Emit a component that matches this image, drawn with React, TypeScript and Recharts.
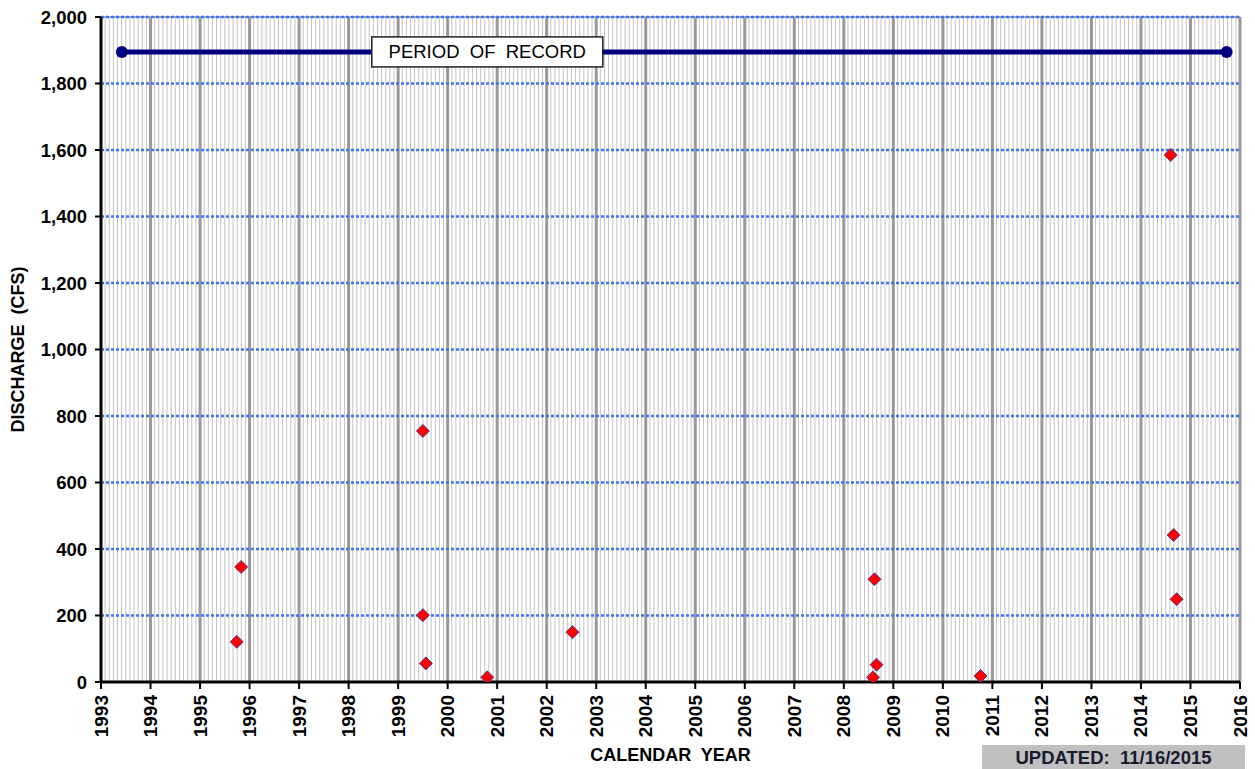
import React from 'react';
import {
  ComposedChart,
  XAxis,
  YAxis,
  Scatter,
  ReferenceLine,
  ReferenceDot,
} from 'recharts';

const FONT = '"Liberation Sans", Arial, Helvetica, sans-serif';

const yearTicks = [1993, 1994, 1995, 1996, 1997, 1998, 1999, 2000, 2001, 2002, 2003, 2004, 2005, 2006, 2007, 2008, 2009, 2010, 2011, 2012, 2013, 2014, 2015, 2016];
const dischargeTicks = [0, 200, 400, 600, 800, 1000, 1200, 1400, 1600, 1800, 2000];
const monthsPerYear = 12;

const obsYears = [1995.74, 1995.83, 1999.5, 1999.5, 1999.56, 2000.8, 2002.52, 2008.59, 2008.62, 2008.66, 2010.76, 2014.6, 2014.66, 2014.72];
const obsDischarge = [121, 346, 755, 201, 56, 14, 150, 14, 309, 52, 18, 1585, 442, 249];

const periodYears = [1993.42, 2015.73];
const periodDischarge = [1895, 1895];
const periodLabel = 'PERIOD\u00a0 OF\u00a0 RECORD';
const periodLabelYear = 2000.8;

const updatedText = 'UPDATED:\u00a0 11/16/2015';
const xTitle = 'CALENDAR\u00a0 YEAR';
const yTitle = 'DISCHARGE\u00a0 (CFS)';

const observations = obsYears.map((x, i) => ({ x, y: obsDischarge[i] }));
const period = periodYears.map((x, i) => ({ x, y: periodDischarge[i] }));

const minorLines: number[] = [];
for (let i = 0; i < yearTicks.length - 1; i++) {
  for (let m = 1; m < monthsPerYear; m++) {
    minorLines.push(yearTicks[i] + m / monthsPerYear);
  }
}

const Diamond = (props: any) => {
  const { cx, cy } = props;
  if (cx == null || cy == null) return null;
  const r = 6.5;
  return (
    <polygon
      points={`${cx},${cy - r} ${cx + r},${cy} ${cx},${cy + r} ${cx - r},${cy}`}
      fill="#ff0000"
      stroke="#4a3f8f"
      strokeWidth={1}
    />
  );
};

const PeriodDot = (props: any) => {
  const { cx, cy } = props;
  if (cx == null || cy == null) return null;
  return <circle cx={cx} cy={cy} r={6} fill="#000080" />;
};

const LabelBox = (props: any) => {
  const { cx, cy } = props;
  if (cx == null || cy == null) return null;
  const w = 231;
  const h = 30;
  return (
    <g>
      <rect x={cx - w / 2} y={cy - h / 2} width={w} height={h} fill="#ffffff" stroke="#222222" strokeWidth={1.5} />
      <text x={cx} y={cy + 6.5} textAnchor="middle" fontFamily={FONT} fontSize={18.5} fill="#000000">
        {periodLabel}
      </text>
    </g>
  );
};

const XTick = (props: any) => {
  const { x, y, payload } = props;
  return (
    <g transform={`translate(${x + 6.5},${y + 4}) rotate(-90)`}>
      <text x={0} y={0} textAnchor="end" fontFamily={FONT} fontWeight="bold" fontSize={19} fill="#000000">
        {payload.value}
      </text>
    </g>
  );
};

const YTick = (props: any) => {
  const { x, y, payload } = props;
  return (
    <text x={x - 6} y={y + 6.5} textAnchor="end" fontFamily={FONT} fontWeight="bold" fontSize={18.5} fill="#000000">
      {Number(payload.value).toLocaleString('en-US')}
    </text>
  );
};

export default function App() {
  return (
    <div style={{ position: 'absolute', left: 0, top: 0, width: 1255, height: 769, background: '#ffffff' }}>
      <ComposedChart
        width={1255}
        height={769}
        margin={{ top: 17, right: 15, left: 0, bottom: 27 }}
      >
        <XAxis
          type="number"
          dataKey="x"
          domain={[1993, 2016]}
          ticks={yearTicks}
          interval={0}
          allowDataOverflow
          height={60}
          axisLine={{ stroke: '#000000', strokeWidth: 3 }}
          tickLine={{ stroke: '#000000', strokeWidth: 2 }}
          tickSize={7}
          tick={<XTick />}
          label={{
            value: xTitle,
            position: 'insideBottom',
            offset: -19,
            style: { fontFamily: FONT, fontWeight: 'bold', fontSize: 18, fill: '#000000' },
          }}
        />
        <YAxis
          type="number"
          dataKey="y"
          domain={[0, 2000]}
          ticks={dischargeTicks}
          interval={0}
          allowDataOverflow
          width={101}
          axisLine={{ stroke: '#000000', strokeWidth: 3 }}
          tickLine={{ stroke: '#000000', strokeWidth: 2 }}
          tickSize={6}
          tick={<YTick />}
          label={{
            value: yTitle,
            angle: -90,
            position: 'insideLeft',
            offset: 18,
            style: { fontFamily: FONT, fontWeight: 'bold', fontSize: 18, fill: '#000000', textAnchor: 'middle' },
          }}
        />
        {minorLines.map((v) => (
          <ReferenceLine key={`m${v}`} x={v} stroke="#c4c4c4" strokeWidth={1} />
        ))}
        {yearTicks.slice(1).map((v) => (
          <ReferenceLine key={`y${v}`} x={v} stroke="#999999" strokeWidth={3} />
        ))}
        <ReferenceLine y={2000} stroke="#aaaaaa" strokeWidth={2} />
        {dischargeTicks.slice(1).map((v) => (
          <ReferenceLine key={`h${v}`} y={v} stroke="#3f74f2" strokeWidth={2.5} strokeDasharray="3 2" />
        ))}
        <Scatter
          data={period}
          line={{ stroke: '#000080', strokeWidth: 5 }}
          shape={<PeriodDot />}
          isAnimationActive={false}
        />
        <ReferenceDot x={periodLabelYear} y={periodDischarge[0]} shape={<LabelBox />} />
        <Scatter data={observations} shape={<Diamond />} isAnimationActive={false} />
      </ComposedChart>
      <div
        style={{
          position: 'absolute',
          left: 982,
          top: 745,
          width: 263,
          height: 24,
          background: '#c0c0c0',
          fontFamily: FONT,
          fontWeight: 'bold',
          fontSize: 18.5,
          lineHeight: '25px',
          textAlign: 'center',
          color: '#1a1a2e',
          whiteSpace: 'pre',
        }}
      >
        {updatedText}
      </div>
    </div>
  );
}
